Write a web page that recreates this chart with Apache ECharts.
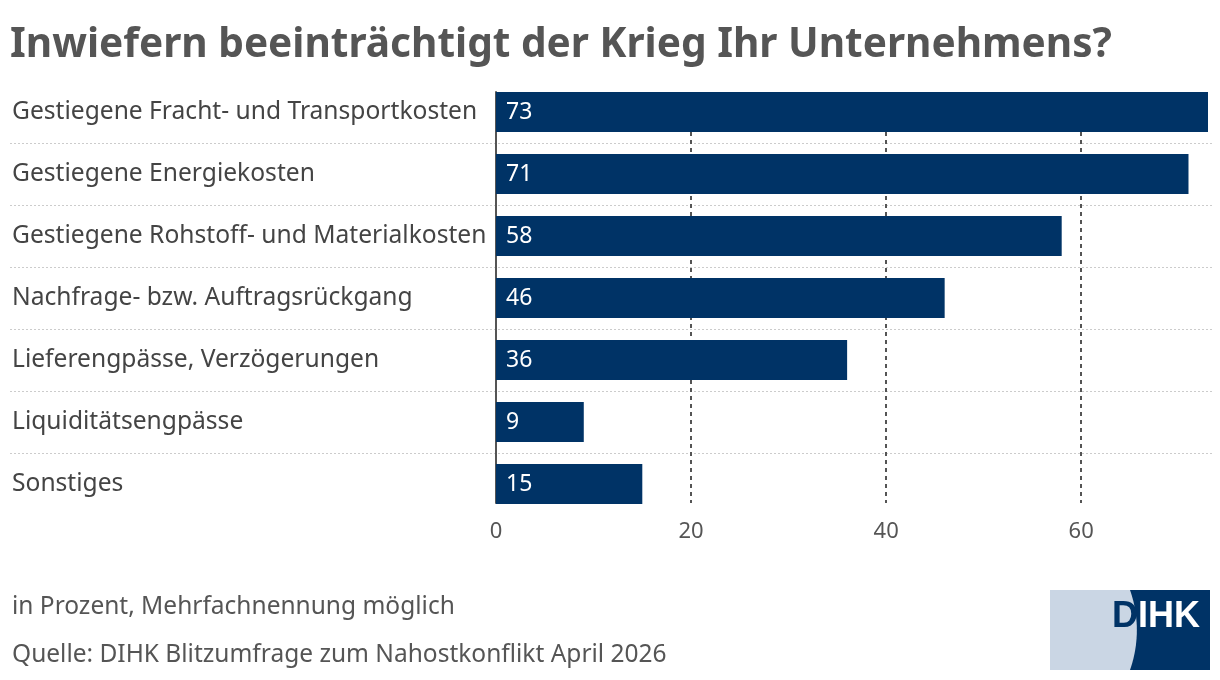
<!DOCTYPE html>
<html>
<head>
<meta charset="utf-8">
<script src="https://cdn.jsdelivr.net/npm/echarts@6/dist/echarts.min.js"></script>
<style>
html,body{margin:0;padding:0;background:#fff;}
#chart{width:1220px;height:680px;}
</style>
</head>
<body>
<div id="chart"></div>
<script>
var categories = [
  "Gestiegene Fracht- und Transportkosten",
  "Gestiegene Energiekosten",
  "Gestiegene Rohstoff- und Materialkosten",
  "Nachfrage- bzw. Auftragsrückgang",
  "Lieferengpässe, Verzögerungen",
  "Liquiditätsengpässe",
  "Sonstiges"
];
var values = [73, 71, 58, 46, 36, 9, 15];
var xTicks = [0, 20, 40, 60];
var xMax = 73;

var FONT = "Noto Sans";
var NAVY = "#003366";

var chart = echarts.init(document.getElementById('chart'), null, {renderer: 'canvas'});

var plotLeft = 496, plotRight = 12;

var logoPts = [[1050, 590]];
(function () {
  var r = 120, x0 = 1130, y0 = 590, y1 = 670;
  var cy = (y0 + y1) / 2, half = (y1 - y0) / 2;
  var cx = x0 - Math.sqrt(r * r - half * half);
  for (var i = 0; i <= 20; i++) {
    var y = y0 + (y1 - y0) * i / 20;
    logoPts.push([cx + Math.sqrt(r * r - (y - cy) * (y - cy)), y]);
  }
  logoPts.push([1050, 670]);
})();

chart.setOption({
  backgroundColor: '#ffffff',
  animation: false,
  grid: [
    {left: plotLeft, right: plotRight, top: 81, height: 434, containLabel: false},
    {left: plotLeft, right: plotRight, top: 92, bottom: 177, containLabel: false},
    {left: 10, right: 8, top: 81, height: 434, containLabel: false}
  ],
  xAxis: [
    {gridIndex: 0, type: 'value', min: 0, max: xMax, show: false},
    {gridIndex: 1, type: 'value', min: 0, max: xMax, interval: 20,
      axisLine: {show: false}, axisTick: {show: false},
      splitLine: {show: true, showMinLine: false, showMaxLine: false,
        lineStyle: {color: '#555555', type: [4, 4], width: 2}},
      axisLabel: {fontFamily: FONT, fontSize: 22, color: '#555555', margin: 18,
        showMaxLabel: false,
        formatter: function (v) { return xTicks.indexOf(v) >= 0 ? String(v) : ''; }}
    },
    {gridIndex: 2, type: 'value', min: 0, max: 1, show: false}
  ],
  yAxis: [
    {gridIndex: 0, type: 'category', data: categories, inverse: true,
      axisLine: {show: false}, axisTick: {show: false}, splitLine: {show: false},
      axisLabel: {fontFamily: FONT, fontSize: 24.6, color: '#444444', align: 'left', margin: 484,
        padding: [6, 0, 0, 0]}
    },
    {gridIndex: 1, type: 'value', min: 0, max: 1, axisLabel: {show: false},
      axisTick: {show: false}, splitLine: {show: false},
      axisLine: {show: true, lineStyle: {color: '#555555', width: 2}}
    },
    {gridIndex: 2, type: 'category', data: categories, inverse: true,
      axisLine: {show: false}, axisTick: {show: false}, axisLabel: {show: false},
      splitLine: {show: true, showMinLine: false, showMaxLine: false,
        lineStyle: {color: '#cccccc', type: [2, 2], width: 1}}
    }
  ],
  series: [{
    type: 'bar',
    xAxisIndex: 0, yAxisIndex: 0,
    data: values,
    barWidth: 40,
    z: 5,
    itemStyle: {color: NAVY},
    label: {show: true, position: 'insideLeft', distance: 10, padding: [4, 0, 0, 0],
      fontFamily: FONT, fontSize: 23, color: '#ffffff'}
  }],
  graphic: [
    {type: 'text', x: 10, y: 45,
      style: {text: 'Inwiefern beeinträchtigt der Krieg Ihr Unternehmens?', verticalAlign: 'middle',
        font: 'bold 40.6px "Noto Sans"', fill: '#555555'}},
    {type: 'text', x: 12, y: 607,
      style: {text: 'in Prozent, Mehrfachnennung möglich', verticalAlign: 'middle',
        font: '24.5px "Noto Sans"', fill: '#555555'}},
    {type: 'text', x: 12, y: 655,
      style: {text: 'Quelle: DIHK Blitzumfrage zum Nahostkonflikt April 2026', verticalAlign: 'middle',
        font: '24.5px "Noto Sans"', fill: '#555555'}},
    {type: 'rect', shape: {x: 1050, y: 590, width: 160, height: 80}, style: {fill: NAVY}},
    {type: 'polygon', shape: {points: logoPts}, style: {fill: '#cad6e4'}},
    {type: 'text', x: 1112, y: 617,
      style: {text: '{d|D}{w|IHK}', verticalAlign: 'middle', align: 'left',
        rich: {
          d: {fontFamily: 'Liberation Sans', fontWeight: 'bold', fontSize: 36, fill: NAVY},
          w: {fontFamily: 'Liberation Sans', fontWeight: 'bold', fontSize: 36, fill: '#ffffff'}
        }}}
  ]
});
</script>
</body>
</html>
